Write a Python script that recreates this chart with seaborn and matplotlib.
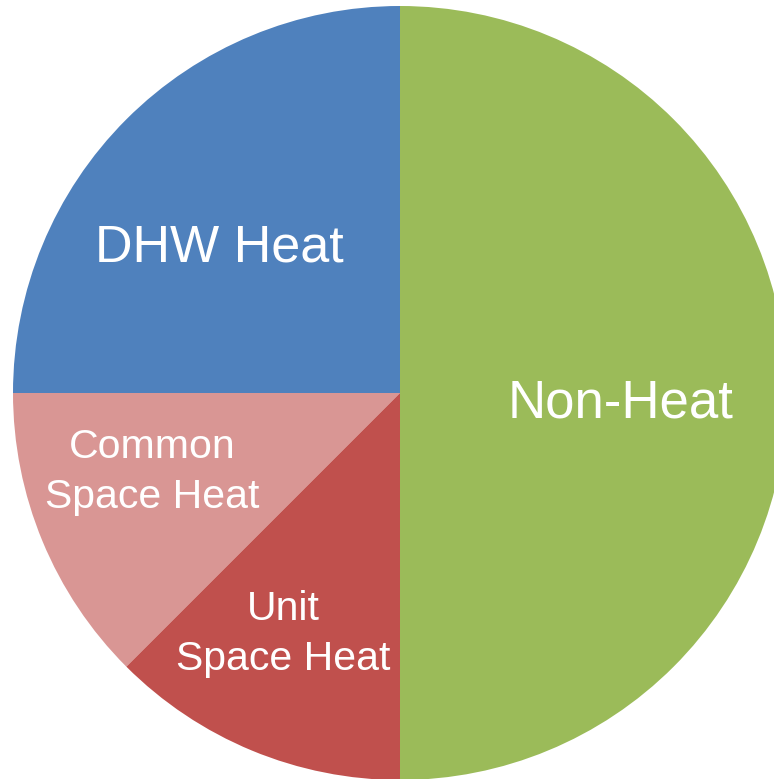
import numpy as np
import matplotlib.pyplot as plt
import seaborn as sns

sns.set_theme(style="white")
plt.rcParams['font.family'] = ['Liberation Sans', 'DejaVu Sans']

# energy share by end use (counter-clockwise from 12 o'clock)
categories = ['DHW Heat', 'Common Space Heat', 'Unit Space Heat', 'Non-Heat']
shares = [25, 12.5, 12.5, 50]
colors = ['#4F81BD', '#D99694', '#C0504D', '#9BBB59']

fig = plt.figure(figsize=(7.74, 7.79), dpi=100)
ax = fig.add_axes([0, 0, 1, 1])

ax.pie(shares, colors=colors, startangle=90, counterclock=True,
       radius=1, wedgeprops=dict(linewidth=0))

# pixel -> data helper (pie centre at px (400, 393), radius 387 px)
R = 387.0
def px(x, y):
    return (x - 400) / R, (393 - y) / R

ax.set_xlim(-400 / R, (774 - 400) / R)
ax.set_ylim(-(779 - 393) / R, 393 / R)
ax.set_aspect('auto')
ax.axis('off')

# slice labels, one text per line, anchored on the baseline
label_lines = [
    (['DHW Heat'], 219, [262], 37.5),
    (['Non-Heat'], 621, [417], 38),
    (['Common', 'Space Heat'], 152, [458, 508], 29.5),
    (['Unit', 'Space Heat'], 283, [620, 670], 29.5),
]
for lines, x, ys, size in label_lines:
    for line, y in zip(lines, ys):
        tx, ty = px(x, y)
        ax.text(tx, ty, line, color='white', fontsize=size,
                ha='center', va='baseline')

fig.savefig('out.png', dpi=100)
